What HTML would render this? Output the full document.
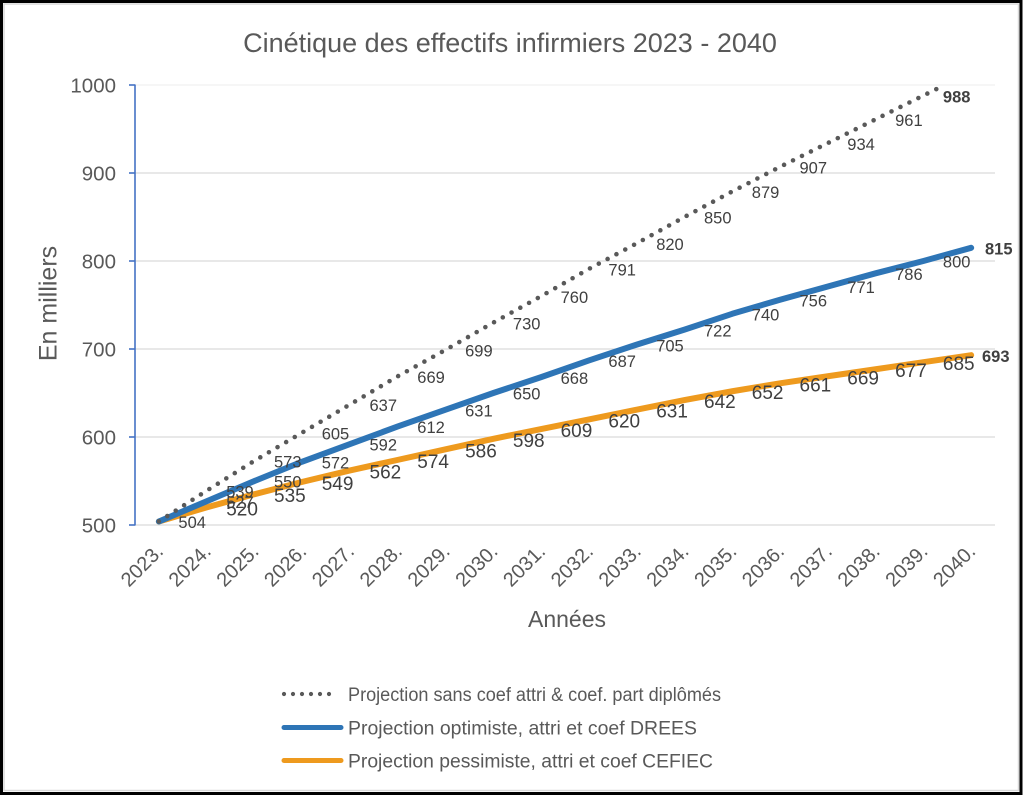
<!DOCTYPE html>
<html>
<head>
<meta charset="utf-8">
<style>
html,body{margin:0;padding:0;background:#fff;}
svg{display:block;}
text{font-family:"Liberation Sans",Arial,sans-serif;}
.ax{fill:#595959;font-size:20.5px;}
.xl{fill:#595959;font-size:20px;}
.dl{fill:#404040;font-size:16.5px;}
.ol{fill:#404040;font-size:19px;}
.b{font-weight:bold;}
</style>
</head>
<body>
<svg width="1024" height="796" viewBox="0 0 1024 796" xmlns="http://www.w3.org/2000/svg">
<rect x="0" y="0" width="1024" height="796" fill="#fff"/>
<!-- frame -->
<rect x="1.5" y="1.5" width="1019.5" height="792" fill="none" stroke="#000" stroke-width="3"/>
<rect x="4" y="4" width="1014.5" height="786.5" fill="none" stroke="#d9d9d9" stroke-width="1.5"/>

<!-- title -->
<text x="510" y="52" text-anchor="middle" fill="#595959" style="font-size:27px">Cinétique des effectifs infirmiers 2023 - 2040</text>

<!-- gridlines -->
<g stroke="#d9d9d9" stroke-width="1.3">
<line x1="135" y1="85" x2="995" y2="85" stroke="#f0f0f0"/>
<line x1="135" y1="173" x2="995" y2="173"/>
<line x1="135" y1="261" x2="995" y2="261"/>
<line x1="135" y1="349" x2="995" y2="349"/>
<line x1="135" y1="437" x2="995" y2="437"/>
<line x1="135" y1="525" x2="995" y2="525"/>
</g>
<!-- y axis -->
<g stroke="#4472C4" stroke-width="1.6">
<line x1="135" y1="84.5" x2="135" y2="525.5"/>
<line x1="129" y1="85" x2="135" y2="85"/>
<line x1="129" y1="173" x2="135" y2="173"/>
<line x1="129" y1="261" x2="135" y2="261"/>
<line x1="129" y1="349" x2="135" y2="349"/>
<line x1="129" y1="437" x2="135" y2="437"/>
<line x1="129" y1="525" x2="135" y2="525"/>
</g>
<g class="ax" text-anchor="end">
<text x="116" y="92.3">1000</text>
<text x="116" y="180.3">900</text>
<text x="116" y="268.3">800</text>
<text x="116" y="356.3">700</text>
<text x="116" y="444.3">600</text>
<text x="116" y="532.3">500</text>
</g>
<text transform="translate(56.5,303.5) rotate(-90)" text-anchor="middle" fill="#595959" style="font-size:25px">En milliers</text>

<!-- x labels -->
<g class="xl" text-anchor="end">
<text transform="translate(164.4,552.5) rotate(-45)">2023.</text>
<text transform="translate(212.2,552.5) rotate(-45)">2024.</text>
<text transform="translate(260,552.5) rotate(-45)">2025.</text>
<text transform="translate(307.7,552.5) rotate(-45)">2026.</text>
<text transform="translate(355.5,552.5) rotate(-45)">2027.</text>
<text transform="translate(403.3,552.5) rotate(-45)">2028.</text>
<text transform="translate(451.1,552.5) rotate(-45)">2029.</text>
<text transform="translate(498.9,552.5) rotate(-45)">2030.</text>
<text transform="translate(546.6,552.5) rotate(-45)">2031.</text>
<text transform="translate(594.4,552.5) rotate(-45)">2032.</text>
<text transform="translate(642.2,552.5) rotate(-45)">2033.</text>
<text transform="translate(690,552.5) rotate(-45)">2034.</text>
<text transform="translate(737.8,552.5) rotate(-45)">2035.</text>
<text transform="translate(785.5,552.5) rotate(-45)">2036.</text>
<text transform="translate(833.3,552.5) rotate(-45)">2037.</text>
<text transform="translate(881.1,552.5) rotate(-45)">2038.</text>
<text transform="translate(928.9,552.5) rotate(-45)">2039.</text>
<text transform="translate(976.7,552.5) rotate(-45)">2040.</text>
</g>
<text x="567" y="627" text-anchor="middle" fill="#595959" style="font-size:23px">Années</text>

<!-- series -->
<polyline fill="none" stroke="#EE9A1E" stroke-width="6" stroke-linejoin="round" stroke-linecap="round"
points="158.9,521.48 206.68,507.4 254.46,494.2 302.24,481.88 350.02,470.44 397.8,459.88 445.58,449.32 493.36,438.76 541.14,429.08 588.92,419.4 636.7,409.72 684.48,400.04 732.26,391.24 780.04,383.32 827.82,376.28 875.6,369.24 923.38,362.2 971.16,355.16"/>
<polyline fill="none" stroke="#2E75B6" stroke-width="6" stroke-linejoin="round" stroke-linecap="round"
points="158.9,521.48 206.68,501.24 254.46,481 302.24,461.64 350.02,444.04 397.8,426.44 445.58,409.72 493.36,393 541.14,377.16 588.92,360.44 636.7,344.6 684.48,329.64 732.26,313.8 780.04,299.72 827.82,286.52 875.6,273.32 923.38,261 971.16,247.8"/>
<polyline fill="none" stroke="#595959" stroke-width="4.6" stroke-linejoin="round" stroke-linecap="round" stroke-dasharray="0 10"
points="158.9,521.48 206.68,490.68 254.46,460.76 302.24,432.6 350.02,404.44 397.8,376.28 445.58,349.88 493.36,322.6 541.14,296.2 588.92,268.92 636.7,243.4 684.48,217 732.26,191.48 780.04,166.84 827.82,143.08 875.6,119.32 923.38,95.56 944.6,85"/>

<!-- dotted labels -->
<g class="dl">
<text x="178.4" y="528.2">504</text>
<text x="226.2" y="497.4">539</text>
<text x="274" y="467.5">573</text>
<text x="321.7" y="439.3">605</text>
<text x="369.5" y="411.1">637</text>
<text x="417.3" y="383">669</text>
<text x="465.1" y="356.6">699</text>
<text x="512.9" y="329.3">730</text>
<text x="560.6" y="302.9">760</text>
<text x="608.4" y="275.6">791</text>
<text x="656.2" y="250.1">820</text>
<text x="704" y="223.7">850</text>
<text x="751.8" y="198.2">879</text>
<text x="799.5" y="173.5">907</text>
<text x="847.3" y="149.8">934</text>
<text x="895.1" y="126">961</text>
<text x="942.9" y="102.3" class="b">988</text>
</g>
<!-- blue labels -->
<g class="dl">
<text x="226.2" y="507.9">527</text>
<text x="274" y="487.7">550</text>
<text x="321.7" y="468.3">572</text>
<text x="369.5" y="450.7">592</text>
<text x="417.3" y="433.1">612</text>
<text x="465.1" y="416.4">631</text>
<text x="512.9" y="399.7">650</text>
<text x="560.6" y="383.9">668</text>
<text x="608.4" y="367.1">687</text>
<text x="656.2" y="351.3">705</text>
<text x="704" y="336.3">722</text>
<text x="751.8" y="320.5">740</text>
<text x="799.5" y="306.4">756</text>
<text x="847.3" y="293.2">771</text>
<text x="895.1" y="280">786</text>
<text x="942.9" y="267.7">800</text>
<text x="985" y="254.5" class="b">815</text>
</g>
<!-- orange labels -->
<g class="ol">
<text x="226.2" y="515.4">520</text>
<text x="274" y="502.2">535</text>
<text x="321.7" y="489.9">549</text>
<text x="369.5" y="478.4">562</text>
<text x="417.3" y="467.9">574</text>
<text x="465.1" y="457.3">586</text>
<text x="512.9" y="446.8">598</text>
<text x="560.6" y="437.1">609</text>
<text x="608.4" y="427.4">620</text>
<text x="656.2" y="417.7">631</text>
<text x="704" y="408">642</text>
<text x="751.8" y="399.2">652</text>
<text x="799.5" y="391.3">661</text>
<text x="847.3" y="384.3">669</text>
<text x="895.1" y="377.2">677</text>
<text x="942.9" y="370.2">685</text>
</g>
<text x="982" y="361.9" class="dl b">693</text>

<!-- legend -->
<line x1="284" y1="694" x2="338" y2="694" stroke="#595959" stroke-width="4.2" stroke-linecap="round" stroke-dasharray="0 9"/>
<line x1="284" y1="727.5" x2="341" y2="727.5" stroke="#2E75B6" stroke-width="5" stroke-linecap="round"/>
<line x1="284" y1="760.5" x2="341" y2="760.5" stroke="#EE9A1E" stroke-width="5" stroke-linecap="round"/>
<g fill="#595959" style="font-size:19px">
<text x="348" y="701" textLength="373" lengthAdjust="spacingAndGlyphs">Projection sans coef attri &amp; coef. part diplômés</text>
<text x="348" y="734.5" textLength="349" lengthAdjust="spacingAndGlyphs">Projection optimiste, attri et coef DREES</text>
<text x="348" y="767.5" textLength="365" lengthAdjust="spacingAndGlyphs">Projection pessimiste, attri et coef CEFIEC</text>
</g>
</svg>
</body>
</html>
